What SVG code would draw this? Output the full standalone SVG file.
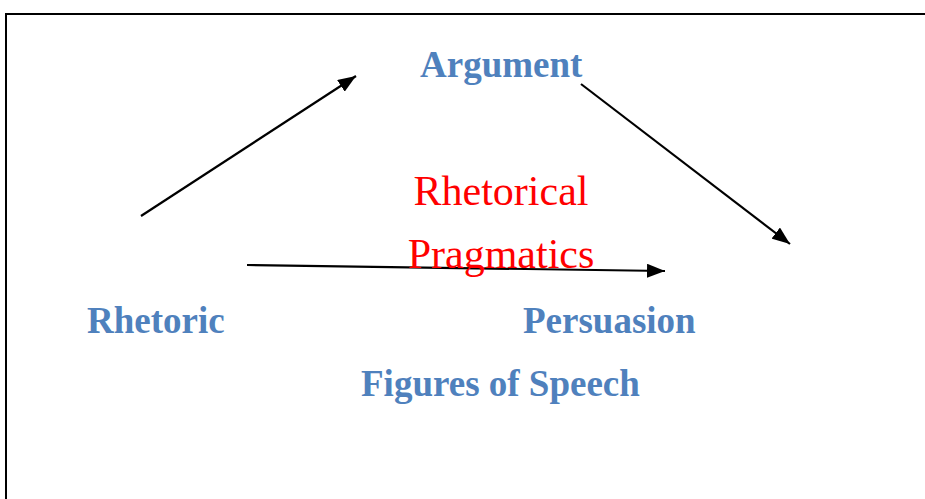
<svg xmlns="http://www.w3.org/2000/svg" width="925" height="499" viewBox="0 0 925 499">
<style>
.node{font-family:"Liberation Serif","Times New Roman",serif;font-weight:bold;font-size:37px;fill:#4f81bd}
.red{font-family:"Liberation Serif","Times New Roman",serif;font-size:42px;fill:#ff0000}
.conn line{stroke:#000;stroke-width:2.2}
</style>
<defs>
<marker id="a" viewBox="0 0 18 14" refX="18" refY="7" markerWidth="18" markerHeight="14" markerUnits="userSpaceOnUse" orient="auto">
<path d="M0,0 L18,7 L0,14 z" fill="#000"/>
</marker>
</defs>
<rect x="0" y="0" width="925" height="499" fill="#fff"/>
<path d="M6,499 V14 H925" fill="none" stroke="#000" stroke-width="2"/>
<g class="conn">
<line x1="141" y1="216" x2="356" y2="76" marker-end="url(#a)"/>
<line x1="581" y1="84" x2="790" y2="244" marker-end="url(#a)"/>
<line x1="247" y1="265" x2="665" y2="271" marker-end="url(#a)"/>
</g>
<g id="argument"><text class="node" x="420" y="77">Argument</text></g>
<g id="rhetoric"><text class="node" x="87" y="333">Rhetoric</text></g>
<g id="persuasion"><text class="node" x="523" y="333">Persuasion</text></g>
<g id="figures"><text class="node" x="361" y="396">Figures of Speech</text></g>
<g id="pragmatics"><text class="red" x="501" y="205" text-anchor="middle">Rhetorical</text><text class="red" x="501" y="268" text-anchor="middle">Pragmatics</text></g>
</svg>
